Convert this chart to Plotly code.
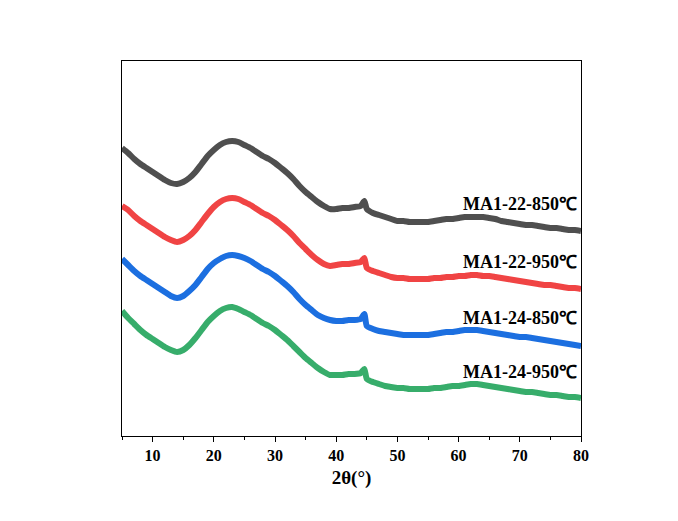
import plotly.graph_objects as go

two_theta = [5, 6, 7, 8, 9, 10, 11, 12, 13, 14, 15, 16, 17, 18, 19, 20, 21, 22, 23, 24,
             25, 26, 27, 28, 29, 30, 31, 32, 33, 34, 35, 36, 37, 38, 39, 40, 41, 42, 43, 44,
             44.6,
             45, 46, 47, 48, 49, 50, 51, 52, 53, 54, 55, 56, 57, 58, 59, 60, 61, 62, 63, 64,
             65, 66, 67, 68, 69, 70, 71, 72, 73, 74, 75, 76, 77, 78, 79, 80]

ma1_22_850 = [288, 283, 277, 272, 268, 264, 260, 256, 253, 252, 254, 258, 264, 272, 280,
              286, 291, 294, 295, 294, 291, 288, 284, 280, 277, 273, 268, 263, 257, 250,
              244, 239, 234, 230, 227, 227, 228, 228, 229, 230,
              235,
              227, 223, 221, 219, 217, 215, 215, 214, 214, 214, 214, 215, 216, 217, 217,
              218, 219, 219, 219, 219, 218, 217, 215, 214, 213, 212, 211, 211, 210, 209,
              208, 208, 207, 206, 206, 205]

ma1_22_950 = [230, 226, 220, 215, 211, 207, 203, 199, 196, 194, 196, 200, 206, 214, 222,
              229, 234, 237, 238, 237, 234, 231, 227, 223, 220, 216, 211, 206, 200, 193,
              187, 181, 176, 172, 170, 171, 172, 172, 173, 174,
              178,
              168, 165, 163, 161, 159, 158, 158, 157, 157, 157, 157, 158, 158, 159, 159,
              160, 160, 161, 161, 160, 160, 159, 158, 157, 156, 155, 154, 153, 152, 151,
              151, 150, 149, 148, 148, 147]

ma1_24_850 = [177, 171, 165, 160, 156, 152, 148, 144, 140, 138, 140, 145, 151, 159, 167,
              173, 177, 180, 181, 180, 178, 175, 171, 167, 164, 160, 155, 150, 144, 137,
              131, 126, 121, 118, 116, 115, 115, 116, 116, 117,
              122,
              110, 107, 105, 104, 103, 102, 101, 101, 101, 101, 101, 102, 103, 104, 104,
              105, 106, 106, 106, 105, 104, 103, 102, 101, 100, 99, 99, 98, 97, 96,
              95, 94, 93, 92, 91, 90]

ma1_24_950 = [125, 118, 112, 106, 101, 97, 93, 89, 86, 84, 86, 91, 98, 106, 114,
              120, 125, 128, 129, 127, 124, 121, 117, 113, 110, 106, 101, 96, 90, 84,
              78, 73, 68, 64, 61, 61, 61, 62, 62, 63,
              67,
              57, 54, 52, 50, 49, 48, 48, 47, 47, 47, 47, 48, 48, 49, 50,
              50, 51, 52, 52, 51, 50, 49, 48, 47, 46, 45, 44, 44, 43, 42,
              41, 41, 40, 39, 39, 38]

series_names = ["MA1-22-850℃", "MA1-22-950℃", "MA1-24-850℃", "MA1-24-950℃"]
series_values = [ma1_22_850, ma1_22_950, ma1_24_850, ma1_24_950]
series_colors = ["#4f4f4f", "#f04444", "#1c6fe0", "#37ad6b"]
label_x = [79.6, 79.6, 79.6, 79.6]
label_y = [232, 174, 118, 64]

font_family = "Liberation Serif"

fig = go.Figure()
for name, vals, col in zip(series_names, series_values, series_colors):
    fig.add_trace(go.Scatter(x=two_theta, y=vals, mode="lines", name=name,
                             line=dict(color=col, width=6, shape="spline", smoothing=0.5),
                             showlegend=False, hoverinfo="skip"))

for name, lx, ly in zip(series_names, label_x, label_y):
    fig.add_annotation(x=lx, y=ly, text="<b>" + name + "</b>", showarrow=False,
                       xanchor="right", yanchor="middle",
                       font=dict(family=font_family, size=18, color="black"))

fig.update_layout(
    width=678, height=521,
    margin=dict(l=114, r=105, t=53, b=93),
    paper_bgcolor="white", plot_bgcolor="white",
    font=dict(family=font_family, color="black"),
)
fig.update_xaxes(
    range=[5, 80], showgrid=False, zeroline=False,
    showline=True, linecolor="black", linewidth=1, mirror=True,
    ticks="outside", ticklen=5, tickwidth=1, tickcolor="black",
    tickvals=[10, 20, 30, 40, 50, 60, 70, 80],
    tickfont=dict(family=font_family, size=16, color="black", weight="bold"),
    minor=dict(ticks="outside", ticklen=3, tickwidth=1, tickcolor="black",
               tickvals=[5, 15, 25, 35, 45, 55, 65, 75], showgrid=False),
    title=dict(text="<b>2θ(°)</b>", font=dict(family=font_family, size=19, color="black"),
               standoff=7),
)
fig.update_yaxes(
    range=[0, 375], showgrid=False, zeroline=False,
    showline=True, linecolor="black", linewidth=1, mirror=True,
    ticks="", showticklabels=False,
)

fig.write_html("out.html")
